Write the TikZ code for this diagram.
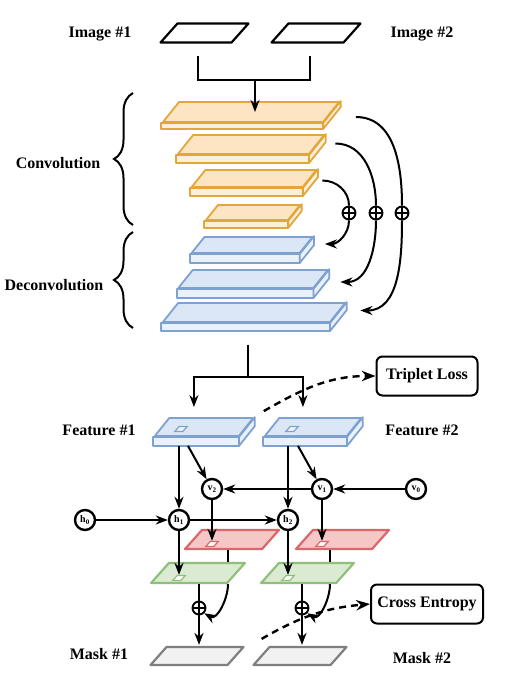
\documentclass[tikz,border=0pt]{standalone}
\usepackage{fontspec}
\setmainfont{Liberation Serif}
\usetikzlibrary{positioning,arrows.meta,calc,decorations.pathreplacing}

\definecolor{convline}{HTML}{E3A63A}
\definecolor{convfill}{HTML}{FDE4C3}
\definecolor{deconvline}{HTML}{7FA1CF}
\definecolor{deconvfill}{HTML}{DBE7F7}
\definecolor{predline}{HTML}{D8686A}
\definecolor{predfill}{HTML}{F6C7C7}
\definecolor{maskline}{HTML}{8FC07B}
\definecolor{maskfill}{HTML}{DAEBD2}
\definecolor{outline}{HTML}{7F7F7F}
\definecolor{outfill}{HTML}{F2F2F2}

% name, x, y, width, depth, thickness, colour prefix
\newcommand{\slab}[7]{%
  \node[face, draw=#7line, fill=#7fill, minimum width=#4pt, minimum height=#5pt] (#1) at (#2,#3) {};
  \draw[facebody, draw=#7line, fill=#7fill!60!white] (#1.south west) -- (#1.south east) -- ++(0,#6) -- ($(#1.south west)+(0,#6)$) -- cycle;
  \draw[facebody, draw=#7line, fill=#7fill!60!white] (#1.south east) -- (#1.north east) -- ++(0,#6) -- ($(#1.south east)+(0,#6)$) -- cycle;
  \coordinate (#1-b) at ($(#1.south)+(0,#6)$);
}

\begin{document}
\begin{tikzpicture}[x=1pt, y=-1pt, >=Stealth,
  font=\bfseries\fontsize{16}{19}\selectfont,
  face/.style={draw, inner sep=0pt, xslant=0.8, line width=1.8pt, line join=round},
  facebody/.style={line width=1.8pt, line join=round},
  plane/.style={draw, inner sep=0pt, xslant=0.89, minimum height=19pt, line width=2.2pt, line join=round},
  spot/.style={draw, inner sep=0pt, xslant=0.9, minimum width=8pt, minimum height=5pt, line width=1.2pt},
  hidden/.style={circle, draw, fill=white, line width=2.4pt, inner sep=0pt, minimum size=20pt,
                 font=\bfseries\fontsize{10}{10}\selectfont},
  sumnode/.style={circle, draw, line width=1.9pt, minimum size=13pt, inner sep=0pt,
    path picture={\draw[line width=1.6pt] (path picture bounding box.north) -- (path picture bounding box.south)
                  (path picture bounding box.west) -- (path picture bounding box.east);}},
  loss/.style={draw, rounded corners=6pt, line width=2pt, minimum height=39pt, inner xsep=5pt},
  lbl/.style={inner sep=0pt},
  wire/.style={line width=2pt},
  arr/.style={->, line width=2pt},
  hint/.style={-{Stealth}, line width=2.4pt, dash pattern=on 7pt off 5pt},
]
\useasboundingbox (0,0) rectangle (505,678);

% inputs
\node[plane, minimum width=71pt] (img1) at (204.5,33) {};
\node[plane, minimum width=72pt] (img2) at (316,33) {};
\node[lbl] (img1lbl) at (100,34) {Image \#1};
\node[lbl] (img2lbl) at (422,34) {Image \#2};

% encoder / decoder stack
\slab{c1}{251}{112}{160}{20}{6}{conv}
\slab{c2}{251}{144.5}{131}{19}{8}{conv}
\slab{c3}{254}{178.5}{111}{17}{8}{conv}
\slab{c4}{253}{212.5}{82}{15}{7}{conv}
\slab{c5}{252}{245}{108}{16}{9}{deconv}
\slab{c6}{253}{279}{135}{18}{9}{deconv}
\slab{c7}{254}{312.5}{167}{19}{8}{deconv}

\draw[wire, decorate, decoration={brace, amplitude=19pt}] (133,225) -- (133,93);
\draw[wire, decorate, decoration={brace, amplitude=19pt}] (133,328) -- (133,232);
\node[lbl] (convlbl) at (58,163) {Convolution};
\node[lbl] (deconvlbl) at (54,285) {Deconvolution};

\coordinate (join) at (255,80);
\draw[wire] ($(img1.south)+(3,12)$) |- (join) -| ($(img2.south)+(3,12)$);
\draw[arr] (join) -- (join |- c1);

% skip connections
\node[sumnode] (sk1) at (349,213) {};
\node[sumnode] (sk2) at (376,213) {};
\node[sumnode] (sk3) at (402,213) {};
\draw[wire] ($(c3.east)+(12,2)$) to[out=0,in=90] (sk1.north);
\draw[arr] (sk1.south) to[out=-90,in=0] ($(c5.east)+(18,-1)$);
\draw[wire] ($(c2.east)+(18,-1)$) to[out=0,in=90] (sk2.north);
\draw[arr] (sk2.south) to[out=-90,in=0] ($(c6.east)+(19,3)$);
\draw[wire] ($(c1.east)+(24,5)$) to[out=0,in=90] (sk3.north);
\draw[arr] (sk3.south) to[out=-90,in=0] ($(c7.east)+(22,-2)$);

% features
\slab{f1}{204}{427}{84}{18}{9}{deconv}
\slab{f2}{313}{427}{82}{18}{9}{deconv}
\node[spot, draw=deconvline, fill=deconvfill!50!white] (fs1) at (181,429) {};
\node[spot, draw=deconvline, fill=deconvfill!50!white] (fs2) at (292,429) {};
\node[lbl] (f1lbl) at (99,430) {Feature \#1};
\node[lbl] (f2lbl) at (422,430) {Feature \#2};

\coordinate (fork) at ($(c7-b)+(2,46)$);
\draw[wire] ($(c7-b)+(2,14)$) -- (fork);
\draw[arr] (fork) -| ($(f1.north)+(-18,-10)$);
\draw[arr] (fork) -| ($(f2.north)+(-18,-10)$);

\node[loss, minimum width=101pt] (triplet) at (427,376) {Triplet Loss};
\draw[hint] ($(f1.north east)+(9,-6)$) to[out=30,in=180] (triplet.west);

% recurrent states
\node[hidden] (h0) at (85,520) {h\textsubscript{0}};
\node[hidden] (h1) at (179,520) {h\textsubscript{1}};
\node[hidden] (h2) at (288,520) {h\textsubscript{2}};
\node[hidden] (v0) at (416,489) {v\textsubscript{0}};
\node[hidden] (v1) at (322,489) {v\textsubscript{1}};
\node[hidden] (v2) at (212,489) {v\textsubscript{2}};

% predicted maps
\node[plane, draw=predline, fill=predfill, minimum width=77pt] (r1) at (232,539.5) {};
\node[plane, draw=predline, fill=predfill, minimum width=76pt] (r2) at (342.5,539.5) {};
\node[plane, draw=maskline, fill=maskfill, minimum width=76pt, minimum height=20pt] (g1) at (198,573) {};
\node[plane, draw=maskline, fill=maskfill, minimum width=75pt, minimum height=20pt] (g2) at (307.5,573) {};
\node[spot, draw=predline, fill=white] (rs1) at (212,544) {};
\node[spot, draw=predline, fill=white] (rs2) at (322,544) {};
\node[spot, draw=maskline, fill=white] (gs1) at (179,578) {};
\node[spot, draw=maskline, fill=white] (gs2) at (288,578) {};

\draw[arr] (h1 |- f1-b) -- (h1);
\draw[arr] ($(h1 |- f1-b)+(9,0)$) -- (v2);
\draw[arr] (h2 |- f2-b) -- (h2);
\draw[arr] ($(h2 |- f2-b)+(10,0)$) -- (v1);
\draw[arr] (v0) -- (v1);
\draw[arr] (v1) -- (v2);
\draw[arr] (h0) -- (h1);
\draw[arr] (h1) -- (h2);
\draw[arr] (v2) -- (v2 |- rs1.north);
\draw[arr] (v1) -- (v1 |- rs2.north);
\draw[arr] (h1) -- (h1 |- gs1.north);
\draw[arr] (h2) -- (h2 |- gs2.north);

% fusion and output masks
\node[sumnode] (p1) at (199,608) {};
\node[sumnode] (p2) at (302,608) {};
\node[plane, draw=outline, fill=outfill, minimum width=77pt, minimum height=18pt] (m1) at (197,656) {};
\node[plane, draw=outline, fill=outfill, minimum width=77pt, minimum height=18pt] (m2) at (300,656) {};
\node[lbl] (m1lbl) at (99,654) {Mask \#1};
\node[lbl] (m2lbl) at (422,658) {Mask \#2};

\coordinate (k1) at ($(p1)+(29,0)$);
\coordinate (k2) at ($(p2)+(28,0)$);
\draw[wire] (k1 |- r1.south) -- (k1 |- g1.north);
\draw[wire] (k2 |- r2.south) -- (k2 |- g2.north);
\draw[arr] (k1 |- g1.south) to[out=-90,in=-30] (p1.south east);
\draw[arr] (k2 |- g2.south) to[out=-90,in=-30] (p2.south east);
\draw[wire] (p1 |- g1.south) -- (p1);
\draw[wire] (p2 |- g2.south) -- (p2);
\draw[arr, shorten >=1pt] (p1) -- (p1 |- m1.north);
\draw[arr, shorten >=1pt] (p2) -- (p2 |- m2.north);

\node[loss, minimum width=112pt] (entropy) at (427,604) {Cross Entropy};
\draw[hint] ($(m1.north east)+(16,-7)$) to[out=30,in=185] (entropy.west);
\end{tikzpicture}
\end{document}
